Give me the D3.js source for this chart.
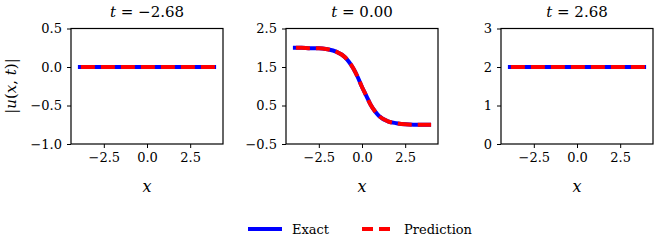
<!DOCTYPE html>
<html>
<head>
<meta charset="utf-8">
<script src="https://cdn.jsdelivr.net/npm/d3@7"></script>
<style>
  body { margin: 0; background: white; }
  svg text { font-family: "DejaVu Serif", "Liberation Serif", "Times New Roman", serif; fill: black; }
</style>
</head>
<body>
<script>
// data
let xs = [-4, -3.5, -3, -2.5, -2, -1.5, -1, -0.75, -0.5, -0.25, 0, 0.25, 0.5, 0.75, 1, 1.5, 2, 2.5, 3, 3.5, 4];
let exactMid = [2.00, 2.00, 1.99, 1.99, 1.96, 1.90, 1.76, 1.63, 1.46, 1.24, 0.98, 0.75, 0.52, 0.35, 0.22, 0.09, 0.04, 0.01, 0.00, 0.00, 0.00];
let predMid = [2.00, 2.00, 1.99, 1.99, 1.96, 1.90, 1.76, 1.63, 1.46, 1.24, 0.98, 0.75, 0.52, 0.35, 0.22, 0.09, 0.04, 0.01, 0.00, 0.00, 0.00];
let flatX = [-4, 4];
let exactFirst = [0, 0];
let predFirst = [0, 0];
let exactLast = [2, 2];
let predLast = [2, 2];

let titles = ["t = \u22122.68", "t = 0.00", "t = 2.68"];
let yDomains = [[-1, 0.5], [-0.5, 2.5], [0, 3]];
let yTicks = [[-1, -0.5, 0, 0.5], [-0.5, 0.5, 1.5, 2.5], [0, 1, 2, 3]];
let yFormats = [".1f", ".1f", "d"];
let xTicks = [-2.5, 0, 2.5];

let panels = [
  {ex: exactFirst, pr: predFirst, xv: flatX},
  {ex: exactMid, pr: predMid, xv: xs},
  {ex: exactLast, pr: predLast, xv: flatX}
];

let W = 654, H = 246;
let lefts = [71, 286, 501];
let pw = 152, plotTop = 28.5, plotBottom = 144;
let serif = "\"DejaVu Serif\", \"Liberation Serif\", serif";

let svg = d3.select("body").append("svg")
  .attr("width", W)
  .attr("height", H);

function fmtMinus(f) {
  return d => d3.format(f)(d).replace("-", "\u2212");
}

panels.forEach((p, i) => {
  let x = d3.scaleLinear().domain([-4.4, 4.4]).range([lefts[i], lefts[i] + pw]);
  let y = d3.scaleLinear().domain(yDomains[i]).range([plotBottom, plotTop]);

  let line = d3.line()
    .x((d, k) => x(p.xv[k]))
    .y(d => y(d))
    .curve(d3.curveMonotoneX);

  svg.append("path")
    .attr("d", line(p.ex))
    .attr("fill", "none")
    .attr("stroke", "#0000ff")
    .attr("stroke-width", 4);

  svg.append("path")
    .attr("d", line(p.pr))
    .attr("fill", "none")
    .attr("stroke", "#ff0000")
    .attr("stroke-width", 4)
    .attr("stroke-dasharray", "14,6")
    .attr("stroke-dashoffset", -3);

  // box
  svg.append("rect")
    .attr("x", lefts[i]).attr("y", plotTop)
    .attr("width", pw).attr("height", plotBottom - plotTop)
    .attr("fill", "none")
    .attr("stroke", "black")
    .attr("stroke-width", 1.2);

  let gx = svg.append("g")
    .attr("transform", "translate(0," + plotBottom + ")")
    .call(d3.axisBottom(x).tickValues(xTicks).tickSize(4).tickPadding(5).tickFormat(fmtMinus(".1f")));
  let gy = svg.append("g")
    .attr("transform", "translate(" + lefts[i] + ",0)")
    .call(d3.axisLeft(y).tickValues(yTicks[i]).tickSize(4).tickPadding(5).tickFormat(fmtMinus(yFormats[i])));

  [gx, gy].forEach(g => {
    g.attr("font-family", null);
    g.select(".domain").remove();
    g.selectAll("line").attr("stroke", "black").attr("stroke-width", 1);
    g.selectAll("text").attr("font-size", 13).style("font-family", serif);
  });

  // title
  svg.append("text")
    .attr("x", lefts[i] + pw / 2)
    .attr("y", 17)
    .attr("text-anchor", "middle")
    .attr("font-size", 15)
    .style("font-family", serif)
    .html("<tspan font-style='italic'>t</tspan> " + titles[i].slice(2));

  // x label
  svg.append("text")
    .attr("x", lefts[i] + pw / 2)
    .attr("y", 192)
    .attr("text-anchor", "middle")
    .attr("font-size", 16)
    .attr("font-style", "italic")
    .style("font-family", serif)
    .text("x");
});

// y label
svg.append("text")
  .attr("transform", "translate(16,86) rotate(-90)")
  .attr("text-anchor", "middle")
  .attr("font-size", 15)
  .style("font-family", serif)
  .html("|<tspan font-style='italic'>u</tspan>(<tspan font-style='italic'>x</tspan>, <tspan font-style='italic'>t</tspan>)|");

// legend
let legend = svg.append("g");
legend.append("line")
  .attr("x1", 248).attr("x2", 282).attr("y1", 229).attr("y2", 229)
  .attr("stroke", "#0000ff").attr("stroke-width", 4);
legend.append("text")
  .attr("x", 292).attr("y", 234).attr("font-size", 13).style("font-family", serif).text("Exact");
legend.append("line")
  .attr("x1", 362).attr("x2", 392).attr("y1", 229).attr("y2", 229)
  .attr("stroke", "#ff0000").attr("stroke-width", 4)
  .attr("stroke-dasharray", "11,6");
legend.append("text")
  .attr("x", 404).attr("y", 234).attr("font-size", 13).style("font-family", serif).text("Prediction");
</script>
</body>
</html>
